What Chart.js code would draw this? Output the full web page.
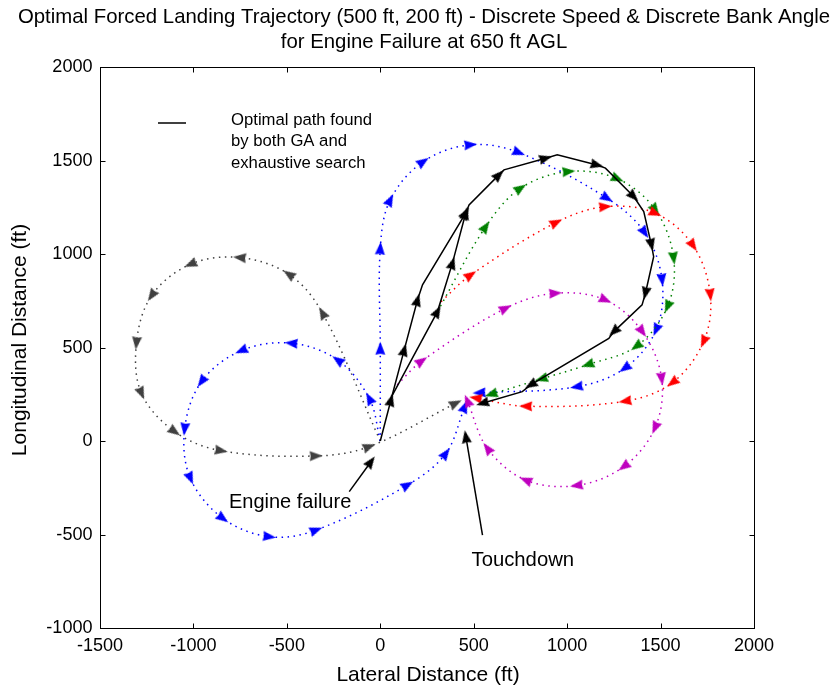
<!DOCTYPE html>
<html>
<head>
<meta charset="utf-8">
<script src="https://cdn.jsdelivr.net/npm/chart.js@4.4.1/dist/chart.umd.min.js"></script>
<style>
  html, body { margin: 0; padding: 0; background: #ffffff; }
  canvas { display: block; }
</style>
</head>
<body>
<canvas id="chart" width="834" height="688"></canvas>
<script>
// Axis tick labels (ft)
const xTicks = [-1500, -1000, -500, 0, 500, 1000, 1500, 2000];
const yTicks = [-1000, -500, 0, 500, 1000, 1500, 2000];

// Optimal path: [lateral ft, longitudinal ft]; arrowheads sit at the listed vertex indices
const optimalPath = [[0,0],[57,219],[128,487],[199,754],[226,835],[457,1218],[475,1262],[635,1423],[662,1450],[885,1512],[947,1530],[1160,1476],[1205,1459],[1356,1307],[1410,1227],[1451,1049],[1463,986],[1419,790],[1401,728],[1250,585],[1223,549],[805,300],[760,264],[547,202]];
const optimalArrows = [1,2,3,5,7,9,11,13,15,17,19,21,23];
const optimalBranch = [[62,240],[306,692],[386,951],[457,1218]];
const branchArrows = [1,2,3];

// Candidate trajectories (dotted), one waypoint per arrowhead
const grayPath = [[0,0],[-310,685],[-490,892],[-753,981],[-1016,945],[-1224,777],[-1305,523],[-1278,255],[-1100,50],[-851,-52],[-343,-80],[-59,-30],[404,202]];
const blueNorthPath = [[0,0],[0,496],[0,1031],[53,1289],[230,1494],[484,1584],[742,1542],[1214,1298],[1415,1114],[1508,861],[1476,594],[1308,389],[1050,290],[529,258]];
const blueWestPath = [[0,0],[-59,228],[-228,433],[-477,523],[-744,483],[-957,317],[-1047,63],[-1016,-200],[-842,-414],[-593,-512],[-343,-476],[146,-235],[351,-66],[452,184]];
const greenPath = [[306,692],[564,1146],[751,1352],[1009,1441],[1270,1402],[1472,1236],[1570,977],[1537,718],[1370,506],[1110,408],[862,332],[593,250]];
const redPath = [[325,745],[484,888],[942,1169],[1205,1253],[1472,1218],[1674,1045],[1766,781],[1730,531],[1563,312],[1310,213],[778,186],[511,230]];
const magentaPath = [[90,300],[222,428],[671,710],[938,790],[1205,754],[1402,585],[1506,332],[1470,70],[1303,-137],[1050,-238],[778,-209],[573,-39],[466,215]];

// Callout arrows: tail at the label, head at the marked point
const engineFailureArrow = [[-166,-271],[-50,-111]];
const touchdownArrow = [[547,-503],[458,23]];

const FONT = '"Liberation Sans", Arial, Helvetica, sans-serif';

function arrowHead(color, len, wid) {
  const s = Math.ceil(Math.max(len, wid)) + 4;
  const c = document.createElement('canvas');
  c.width = s; c.height = s;
  const g = c.getContext('2d');
  g.translate(s / 2, s / 2);
  g.fillStyle = color;
  g.beginPath();
  g.moveTo(0, -len / 2);
  g.lineTo(wid / 2, len / 2);
  g.lineTo(0, len / 2 - len * 0.08);
  g.lineTo(-wid / 2, len / 2);
  g.closePath();
  g.fill();
  return c;
}

function toPoints(arr) { return arr.map(p => ({ x: p[0], y: p[1] })); }

// Heading of travel at a vertex, in screen degrees clockwise from up
function heading(ctx) {
  const pts = ctx.dataset.data;
  const i = ctx.dataIndex;
  const n = pts.length;
  let a, b;
  if (ctx.dataset.headingMode === 'segment') {
    a = pts[Math.max(i - 1, 0)]; b = pts[i];
    if (i === 0) { a = pts[0]; b = pts[1]; }
  } else {
    a = pts[Math.max(i - 1, 0)]; b = pts[Math.min(i + 1, n - 1)];
  }
  const sx = ctx.chart.scales.x, sy = ctx.chart.scales.y;
  const dx = sx.getPixelForValue(b.x) - sx.getPixelForValue(a.x);
  const dy = sy.getPixelForValue(b.y) - sy.getPixelForValue(a.y);
  return Math.atan2(dx, -dy) * 180 / Math.PI;
}

function dottedSet(label, arr, color) {
  return {
    label, data: toPoints(arr), showLine: true,
    borderColor: color, borderWidth: 1.5, borderDash: [1.5, 4.5],
    tension: 0.35, fill: false,
    pointStyle: arrowHead(color, 13, 10),
    pointRadius: ctx => (ctx.dataIndex === 0 ? 0 : 5),
    rotation: heading, headingMode: 'central'
  };
}

function solidSet(label, arr, arrows, color, width) {
  return {
    label, data: toPoints(arr), showLine: true,
    borderColor: color, borderWidth: width, tension: 0, fill: false,
    pointStyle: arrowHead(color, 13, 10),
    pointRadius: ctx => (arrows.includes(ctx.dataIndex) ? 5 : 0),
    rotation: heading, headingMode: 'segment'
  };
}

function drawText(ctx, str, x, y, size, align, sx, rot) {
  ctx.save();
  ctx.font = size + 'px ' + FONT;
  ctx.fillStyle = '#000';
  ctx.textBaseline = 'middle';
  ctx.textAlign = align;
  ctx.translate(x, y);
  if (rot) ctx.rotate(rot);
  ctx.scale(sx, 1);
  ctx.fillText(str, 0, 0);
  ctx.restore();
}

const axesFrame = {
  id: 'axesFrame',
  afterDraw(chart) {
    const { ctx, chartArea: ca, scales } = chart;
    const L = Math.round(ca.left) + 0.5, R = Math.round(ca.right) + 0.5;
    const T = Math.round(ca.top) + 0.5, B = Math.round(ca.bottom) + 0.5;
    ctx.save();
    ctx.strokeStyle = '#000';
    ctx.lineWidth = 1;
    ctx.strokeRect(L, T, R - L, B - T);
    const tl = 5;
    ctx.beginPath();
    xTicks.forEach(v => {
      const px = Math.round(scales.x.getPixelForValue(v)) + 0.5;
      ctx.moveTo(px, B); ctx.lineTo(px, B - tl);
      ctx.moveTo(px, T); ctx.lineTo(px, T + tl);
    });
    yTicks.forEach(v => {
      const py = Math.round(scales.y.getPixelForValue(v)) + 0.5;
      ctx.moveTo(L, py); ctx.lineTo(L + tl, py);
      ctx.moveTo(R, py); ctx.lineTo(R - tl, py);
    });
    ctx.stroke();

    // tick labels
    xTicks.forEach(v => drawText(ctx, String(v), scales.x.getPixelForValue(v), B + 17, 19, 'center', 0.95));
    yTicks.forEach(v => drawText(ctx, String(v), L - 8, scales.y.getPixelForValue(v), 19, 'right', 0.95));

    // titles
    drawText(ctx, 'Optimal Forced Landing Trajectory (500 ft, 200 ft) - Discrete Speed & Discrete Bank Angle', 424, 17, 21, 'center', 0.97);
    drawText(ctx, 'for Engine Failure at 650 ft AGL', 424, 42, 21, 'center', 0.97);
    drawText(ctx, 'Lateral Distance (ft)', 428, 675, 21, 'center', 1);
    drawText(ctx, 'Longitudinal Distance (ft)', 20, 340, 21, 'center', 1, -Math.PI / 2);

    // legend entry
    ctx.beginPath();
    ctx.lineWidth = 1.5;
    ctx.moveTo(158, 123); ctx.lineTo(186, 123);
    ctx.stroke();
    drawText(ctx, 'Optimal path found', 231, 120, 16.7, 'left', 1);
    drawText(ctx, 'by both GA and', 231, 141.5, 16.7, 'left', 1);
    drawText(ctx, 'exhaustive search', 231, 163, 16.7, 'left', 1);

    // callout labels
    const ef = engineFailureArrow[0], td = touchdownArrow[0];
    drawText(ctx, 'Engine failure', scales.x.getPixelForValue(ef[0]) + 2, scales.y.getPixelForValue(ef[1]) + 11, 20, 'right', 1);
    drawText(ctx, 'Touchdown', scales.x.getPixelForValue(td[0]) - 11, scales.y.getPixelForValue(td[1]) + 25, 20.3, 'left', 1);
    ctx.restore();
  }
};

const datasets = [
  solidSet('Optimal path', optimalPath, optimalArrows, '#000000', 1.5),
  solidSet('Optimal path (branch)', optimalBranch, branchArrows, '#000000', 1.5),
  solidSet('Engine failure', engineFailureArrow, [1], '#000000', 1.5),
  solidSet('Touchdown', touchdownArrow, [1], '#000000', 1.5),
  dottedSet('Candidate 1', magentaPath, '#bf00bf'),
  dottedSet('Candidate 2', redPath, '#ff0000'),
  dottedSet('Candidate 3', greenPath, '#008000'),
  dottedSet('Candidate 4', blueNorthPath, '#0000ff'),
  dottedSet('Candidate 5', blueWestPath, '#0000ff'),
  dottedSet('Candidate 6', grayPath, '#404040')
];

new Chart(document.getElementById('chart'), {
  type: 'scatter',
  data: { datasets },
  options: {
    responsive: false,
    devicePixelRatio: 1,
    animation: false,
    layout: { padding: { left: 100, right: 80, top: 67, bottom: 60 } },
    plugins: { legend: { display: false }, tooltip: { enabled: false }, title: { display: false } },
    scales: {
      x: {
        type: 'linear', min: -1500, max: 2000,
        ticks: { display: false, stepSize: 500 },
        grid: { display: false, drawTicks: false },
        border: { display: false },
        title: { display: false }
      },
      y: {
        type: 'linear', min: -1000, max: 2000,
        ticks: { display: false, stepSize: 500 },
        grid: { display: false, drawTicks: false },
        border: { display: false },
        title: { display: false }
      }
    }
  },
  plugins: [axesFrame]
});
</script>
</body>
</html>
